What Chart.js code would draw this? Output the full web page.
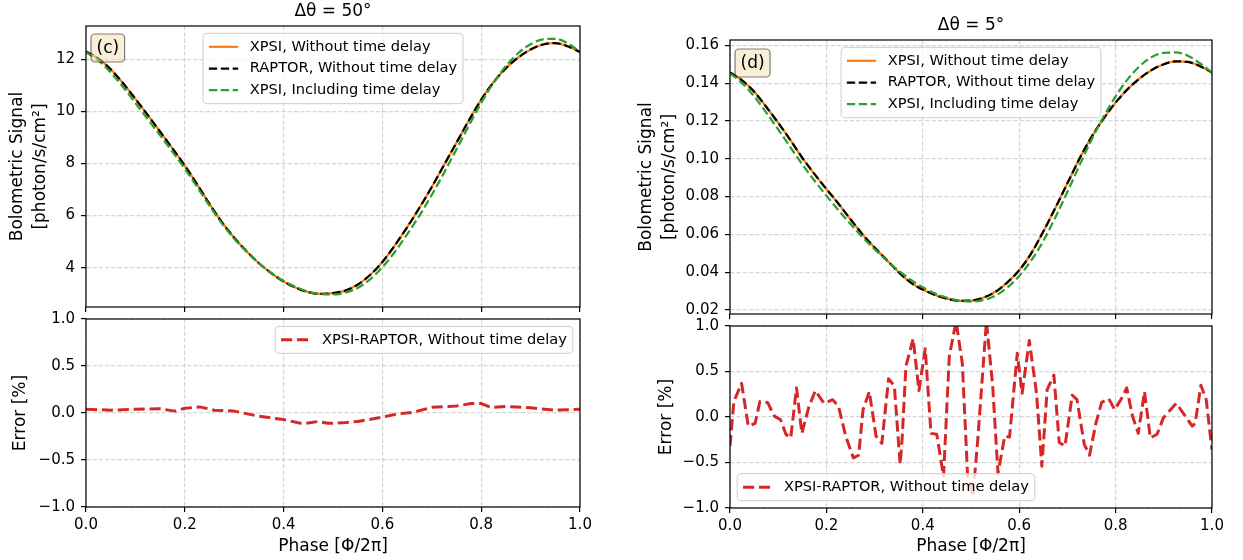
<!DOCTYPE html>
<html><head><meta charset="utf-8">
<script src="https://cdn.jsdelivr.net/npm/chart.js"></script>
<style>
html,body{margin:0;padding:0;background:#fff;}
#wrap{position:relative;width:1243px;height:560px;overflow:hidden;background:#fff;}
canvas{position:absolute;}
</style></head><body>
<div id="wrap">
<canvas id="c1" width="600" height="318" style="left:0px;top:0px"></canvas>
<canvas id="c2" width="600" height="250" style="left:0px;top:310px"></canvas>
<canvas id="c3" width="621" height="320" style="left:622px;top:0px"></canvas>
<canvas id="c4" width="621" height="242" style="left:622px;top:318px"></canvas>
</div>
<script>
// ---------------- data ----------------
const phase = [0, 0.025, 0.05, 0.075, 0.1, 0.125, 0.15, 0.175, 0.2, 0.225, 0.25, 0.275, 0.3, 0.325, 0.35, 0.375, 0.4, 0.425, 0.45, 0.475, 0.5, 0.525, 0.55, 0.575, 0.6, 0.625, 0.65, 0.675, 0.7, 0.725, 0.75, 0.775, 0.8, 0.825, 0.85, 0.875, 0.9, 0.925, 0.95, 0.975, 1.0];

// panel (c), Δθ = 50°
const xpsiNoDelayC = [12.30, 12.03, 11.62, 11.08, 10.48, 9.86, 9.22, 8.58, 7.92, 7.20, 6.45, 5.75, 5.15, 4.63, 4.17, 3.79, 3.47, 3.23, 3.06, 2.99, 3.02, 3.12, 3.35, 3.72, 4.22, 4.85, 5.55, 6.30, 7.10, 7.95, 8.80, 9.65, 10.45, 11.12, 11.66, 12.07, 12.38, 12.57, 12.62, 12.50, 12.28];
const raptorNoDelayC = [12.30, 12.03, 11.62, 11.08, 10.48, 9.86, 9.22, 8.58, 7.92, 7.20, 6.45, 5.75, 5.15, 4.63, 4.17, 3.79, 3.47, 3.23, 3.06, 2.99, 3.02, 3.12, 3.35, 3.72, 4.22, 4.85, 5.55, 6.30, 7.10, 7.95, 8.80, 9.65, 10.45, 11.12, 11.66, 12.07, 12.38, 12.57, 12.62, 12.50, 12.28];
const xpsiDelayC = [12.28, 11.95, 11.50, 10.94, 10.32, 9.70, 9.08, 8.45, 7.80, 7.10, 6.38, 5.70, 5.11, 4.61, 4.17, 3.80, 3.49, 3.25, 3.08, 2.99, 2.97, 3.04, 3.22, 3.55, 4.02, 4.60, 5.28, 6.00, 6.80, 7.65, 8.55, 9.45, 10.33, 11.10, 11.74, 12.24, 12.58, 12.77, 12.79, 12.62, 12.28];
const errPhaseC = [0, 0.05, 0.1, 0.15, 0.18, 0.2, 0.23, 0.26, 0.3, 0.35, 0.4, 0.44, 0.47, 0.49, 0.52, 0.55, 0.6, 0.63, 0.66, 0.7, 0.75, 0.78, 0.8, 0.82, 0.85, 0.9, 0.95, 1.0];
const errC = [0.04, 0.03, 0.04, 0.045, 0.02, 0.05, 0.065, 0.03, 0.02, -0.035, -0.07, -0.115, -0.09, -0.11, -0.105, -0.09, -0.045, -0.01, 0.005, 0.06, 0.075, 0.10, 0.10, 0.06, 0.07, 0.055, 0.03, 0.04];

// panel (d), Δθ = 5°
const xpsiNoDelayD = [0.1456, 0.1415, 0.1355, 0.1275, 0.1190, 0.1100, 0.1005, 0.0920, 0.0840, 0.0762, 0.0680, 0.0600, 0.0530, 0.0465, 0.0400, 0.0345, 0.0308, 0.0280, 0.0260, 0.0249, 0.0250, 0.0265, 0.0295, 0.0345, 0.0410, 0.0500, 0.0615, 0.0740, 0.0870, 0.1000, 0.1115, 0.1212, 0.1297, 0.1368, 0.1425, 0.1469, 0.1500, 0.1515, 0.1512, 0.1490, 0.1456];
const raptorNoDelayD = [0.1456, 0.1415, 0.1355, 0.1275, 0.1190, 0.1100, 0.1005, 0.0920, 0.0840, 0.0762, 0.0680, 0.0600, 0.0530, 0.0465, 0.0400, 0.0345, 0.0308, 0.0280, 0.0260, 0.0249, 0.0250, 0.0265, 0.0295, 0.0345, 0.0410, 0.0500, 0.0615, 0.0740, 0.0870, 0.1000, 0.1115, 0.1212, 0.1297, 0.1368, 0.1425, 0.1469, 0.1500, 0.1515, 0.1512, 0.1490, 0.1456];
const xpsiDelayD = [0.1452, 0.1400, 0.1330, 0.1245, 0.1155, 0.1062, 0.0970, 0.0885, 0.0805, 0.0728, 0.0655, 0.0585, 0.0522, 0.0462, 0.0408, 0.0360, 0.0320, 0.0288, 0.0265, 0.0250, 0.0245, 0.0252, 0.0275, 0.0318, 0.0380, 0.0462, 0.0565, 0.0690, 0.0825, 0.0965, 0.1100, 0.1222, 0.1330, 0.1420, 0.1490, 0.1538, 0.1560, 0.1562, 0.1545, 0.1505, 0.1455];
const errPhaseD = [0, 0.008, 0.024, 0.038, 0.052, 0.062, 0.078, 0.092, 0.105, 0.116, 0.126, 0.138, 0.149, 0.163, 0.177, 0.195, 0.213, 0.225, 0.24, 0.256, 0.267, 0.276, 0.289, 0.303, 0.315, 0.329, 0.341, 0.353, 0.357, 0.365, 0.38, 0.392, 0.405, 0.417, 0.429, 0.443, 0.455, 0.469, 0.482, 0.493, 0.504, 0.514, 0.532, 0.545, 0.556, 0.57, 0.58, 0.596, 0.606, 0.621, 0.636, 0.647, 0.658, 0.672, 0.683, 0.695, 0.71, 0.72, 0.735, 0.746, 0.759, 0.771, 0.786, 0.798, 0.812, 0.823, 0.835, 0.847, 0.86, 0.872, 0.886, 0.899, 0.926, 0.942, 0.959, 0.965, 0.977, 0.988, 1.0];
const errD = [-0.32, 0.17, 0.37, -0.10, -0.07, 0.17, 0.16, 0.01, -0.03, -0.19, -0.23, 0.32, -0.18, 0.10, 0.29, 0.15, 0.19, 0.12, -0.21, -0.45, -0.42, 0.08, 0.28, -0.21, -0.29, 0.42, 0.34, -0.52, -0.25, 0.56, 0.86, 0.29, 0.75, -0.18, -0.19, -0.65, 0.67, 1.05, 0.59, -0.65, -0.87, -0.25, 1.05, 0.34, -0.62, -0.21, -0.22, 0.70, 0.26, 0.84, 0.26, -0.54, 0.30, 0.46, -0.28, -0.32, 0.24, 0.19, -0.30, -0.42, -0.07, 0.16, 0.20, 0.08, 0.20, 0.32, 0.01, -0.18, 0.28, -0.23, -0.19, -0.01, 0.15, 0.03, -0.10, -0.07, 0.35, 0.19, -0.36];

// ticks
const xTickValues = [0, 0.2, 0.4, 0.6, 0.8, 1.0];
const xTickLabels = ['0.0', '0.2', '0.4', '0.6', '0.8', '1.0'];
const yTickValuesC = [4, 6, 8, 10, 12];
const yTickLabelsC = ['4', '6', '8', '10', '12'];
const yTickValuesD = [0.02, 0.04, 0.06, 0.08, 0.10, 0.12, 0.14, 0.16];
const yTickLabelsD = ['0.02', '0.04', '0.06', '0.08', '0.10', '0.12', '0.14', '0.16'];
const errTickValues = [-1.0, -0.5, 0.0, 0.5, 1.0];
const errTickLabels = ['\u22121.0', '\u22120.5', '0.0', '0.5', '1.0'];

// labels
const seriesLabels = ['XPSI, Without time delay', 'RAPTOR, Without time delay', 'XPSI, Including time delay'];
const errLabel = 'XPSI-RAPTOR, Without time delay';
const titleC = '\u0394\u03b8 = 50\u00b0';
const titleD = '\u0394\u03b8 = 5\u00b0';
const yTitleSignal = ['Bolometric Signal', '[photon/s/cm\u00b2]'];
const yTitleErr = 'Error [%]';
const xTitle = 'Phase [\u03a6/2\u03c0]';

// ---------------- styling / helpers ----------------
const FONT = "'DejaVu Sans', sans-serif";
Chart.defaults.font.family = FONT;
Chart.defaults.color = '#000';
Chart.defaults.animation = false;

function rr(ctx, x, y, w, h, r) {
  ctx.beginPath();
  ctx.moveTo(x + r, y);
  ctx.lineTo(x + w - r, y); ctx.arcTo(x + w, y, x + w, y + r, r);
  ctx.lineTo(x + w, y + h - r); ctx.arcTo(x + w, y + h, x + w - r, y + h, r);
  ctx.lineTo(x + r, y + h); ctx.arcTo(x, y + h, x, y + h - r, r);
  ctx.lineTo(x, y + r); ctx.arcTo(x, y, x + r, y, r);
  ctx.closePath();
}

const decor = {
  id: 'mplDecor',
  afterDatasetsDraw(chart, args, o) {
    const ctx = chart.ctx, a = chart.chartArea;
    ctx.save();
    ctx.setLineDash([]);
    ctx.strokeStyle = '#000'; ctx.lineWidth = 1.2;
    ctx.strokeRect(a.left, a.top, a.right - a.left, a.bottom - a.top);
    if (o.tag) {
      ctx.font = '17px ' + FONT;
      const tw = ctx.measureText(o.tag).width;
      const bx = a.left + 5, by = a.top + o.tagDy, bw = tw + 11, bh = 28;
      rr(ctx, bx, by, bw, bh, 4);
      ctx.fillStyle = 'rgba(245,222,179,0.5)'; ctx.fill();
      ctx.strokeStyle = 'rgba(0,0,0,0.5)'; ctx.lineWidth = 1.2; ctx.stroke();
      ctx.fillStyle = '#000'; ctx.textAlign = 'center'; ctx.textBaseline = 'middle';
      ctx.fillText(o.tag, bx + bw / 2, by + bh / 2 + 1);
    }
    if (o.loc) {
      const fs = 14.6;
      ctx.font = fs + 'px ' + FONT;
      const items = chart.data.datasets.map(d => ({label: d.label, color: d.borderColor, dash: d.borderDash || [], width: d.borderWidth}));
      const maxW = Math.max(...items.map(i => ctx.measureText(i.label).width));
      const pad = 5.8, handle = 29.2, gap = 11.7, rowH = 14.4, rowSp = 7.3, vpad = 6.3, off = 7.3;
      const w = pad + handle + gap + maxW + pad;
      const h = 2 * vpad + items.length * rowH + (items.length - 1) * rowSp;
      let x, y;
      if (o.loc === 'upper center') { x = (a.left + a.right) / 2 - w / 2; y = a.top + off; }
      else if (o.loc === 'upper right') { x = a.right - off - w; y = a.top + off; }
      else { x = a.left + off; y = a.bottom - off - h; }
      rr(ctx, x, y, w, h, 4);
      ctx.fillStyle = 'rgba(255,255,255,0.8)'; ctx.fill();
      ctx.strokeStyle = 'rgba(204,204,204,0.8)'; ctx.lineWidth = 1.2; ctx.stroke();
      items.forEach((it, i) => {
        const cy = y + vpad + rowH / 2 + i * (rowH + rowSp);
        ctx.beginPath();
        ctx.setLineDash(it.dash); ctx.strokeStyle = it.color; ctx.lineWidth = it.width; ctx.lineCap = 'butt';
        ctx.moveTo(x + pad, cy); ctx.lineTo(x + pad + handle, cy); ctx.stroke();
        ctx.setLineDash([]);
        ctx.fillStyle = '#000'; ctx.textAlign = 'left'; ctx.textBaseline = 'middle';
        ctx.fillText(it.label, x + pad + handle + gap, cy);
      });
    }
    ctx.restore();
  }
};

const gridOpts = {color: 'rgba(176,176,176,0.5)', lineWidth: 1.2, drawTicks: true, tickLength: 5, tickColor: '#000', tickWidth: 1.2, tickBorderDash: []};
const borderOpts = {display: false, dash: [4.4, 1.9]};
function zeroPad(s) { s.paddingLeft = 0; s.paddingRight = 0; s.paddingTop = 0; s.paddingBottom = 0; }

function xScale(showLabels, h) {
  return {
    type: 'linear', min: 0, max: 1,
    afterBuildTicks: s => { s.ticks = xTickValues.map(v => ({value: v})); },
    afterFit: s => { s.height = h; zeroPad(s); },
    ticks: {display: showLabels, autoSkip: false, maxRotation: 0, padding: 4, font: {size: 15}, color: '#000', callback: (v, i) => xTickLabels[i]},
    grid: gridOpts, border: borderOpts,
    title: showLabels ? {display: true, text: xTitle, font: {size: 17}, color: '#000', padding: {top: 0, bottom: 2.8}} : {display: false}
  };
}
function yScale(min, max, vals, labels, w, title, tpad) {
  return {
    type: 'linear', min: min, max: max,
    afterBuildTicks: s => { s.ticks = vals.map(v => ({value: v})); },
    afterFit: s => { s.width = w; zeroPad(s); },
    ticks: {autoSkip: false, padding: 6, font: {size: 15}, color: '#000', callback: (v, i) => labels[i]},
    grid: gridOpts, border: borderOpts,
    title: {display: true, text: title, font: {size: 17, lineHeight: 23 / 17}, color: '#000', padding: {top: tpad, bottom: 0}}
  };
}
function pts(xs, ys) { return xs.map((x, i) => ({x: x, y: ys[i]})); }
function signalSets(a, b, c) {
  const base = {pointRadius: 0, borderWidth: 2.25, fill: false, cubicInterpolationMode: 'monotone', borderJoinStyle: 'round'};
  return [
    Object.assign({}, base, {label: seriesLabels[0], data: pts(phase, a), borderColor: '#ff7f0e', borderDash: [], order: 3}),
    Object.assign({}, base, {label: seriesLabels[1], data: pts(phase, b), borderColor: '#000000', borderDash: [8.3, 3.6], order: 2}),
    Object.assign({}, base, {label: seriesLabels[2], data: pts(phase, c), borderColor: '#2ca02c', borderDash: [8.3, 3.6], order: 1})
  ];
}
function errSet(xs, ys) {
  return [{label: errLabel, data: pts(xs, ys), borderColor: '#d62728', borderWidth: 3, borderDash: [11.1, 4.8], pointRadius: 0, tension: 0, fill: false, borderJoinStyle: 'round'}];
}
function baseOpts(padding, scales, title, decorOpts) {
  return {
    responsive: false, animation: false, layout: {padding: padding},
    scales: scales,
    plugins: {
      legend: {display: false}, tooltip: {enabled: false},
      title: title ? {display: true, text: title.text, fullSize: false, font: {size: 17, weight: 'normal'}, color: '#000', padding: {top: title.pt, bottom: title.pb}} : {display: false},
      mplDecor: decorOpts
    }
  };
}

// (c) signal
new Chart(document.getElementById('c1'), {
  type: 'line',
  data: {datasets: signalSets(xpsiNoDelayC, raptorNoDelayC, xpsiDelayC)},
  options: baseOpts({left: 0, right: 20, top: 0, bottom: 0},
    {x: xScale(false, 11), y: yScale(2.49, 13.28, yTickValuesC, yTickLabelsC, 86, yTitleSignal, 6.5)},
    {text: titleC, pt: 1.8, pb: 3.8},
    {tag: '(c)', tagDy: 8, loc: 'upper center'}),
  plugins: [decor]
});
// (c) error
new Chart(document.getElementById('c2'), {
  type: 'line',
  data: {datasets: errSet(errPhaseC, errC)},
  options: baseOpts({left: 0, right: 20, top: 9, bottom: 0},
    {x: xScale(true, 53), y: yScale(-1, 1, errTickValues, errTickLabels, 86, yTitleErr, 9.5)},
    null,
    {loc: 'upper right'}),
  plugins: [decor]
});
// (d) signal
new Chart(document.getElementById('c3'), {
  type: 'line',
  data: {datasets: signalSets(xpsiNoDelayD, raptorNoDelayD, xpsiDelayD)},
  options: baseOpts({left: 0, right: 31, top: 0, bottom: 0},
    {x: xScale(false, 6), y: yScale(0.0179, 0.1628, yTickValuesD, yTickLabelsD, 108, yTitleSignal, 13.5)},
    {text: titleD, pt: 15.3, pb: 4.3},
    {tag: '(d)', tagDy: 9, loc: 'upper center'}),
  plugins: [decor]
});
// (d) error
new Chart(document.getElementById('c4'), {
  type: 'line',
  data: {datasets: errSet(errPhaseD, errD)},
  options: baseOpts({left: 0, right: 31, top: 8, bottom: 0},
    {x: xScale(true, 52), y: yScale(-1, 1, errTickValues, errTickLabels, 108, yTitleErr, 33.5)},
    null,
    {loc: 'lower left'}),
  plugins: [decor]
});
</script>
</body></html>
